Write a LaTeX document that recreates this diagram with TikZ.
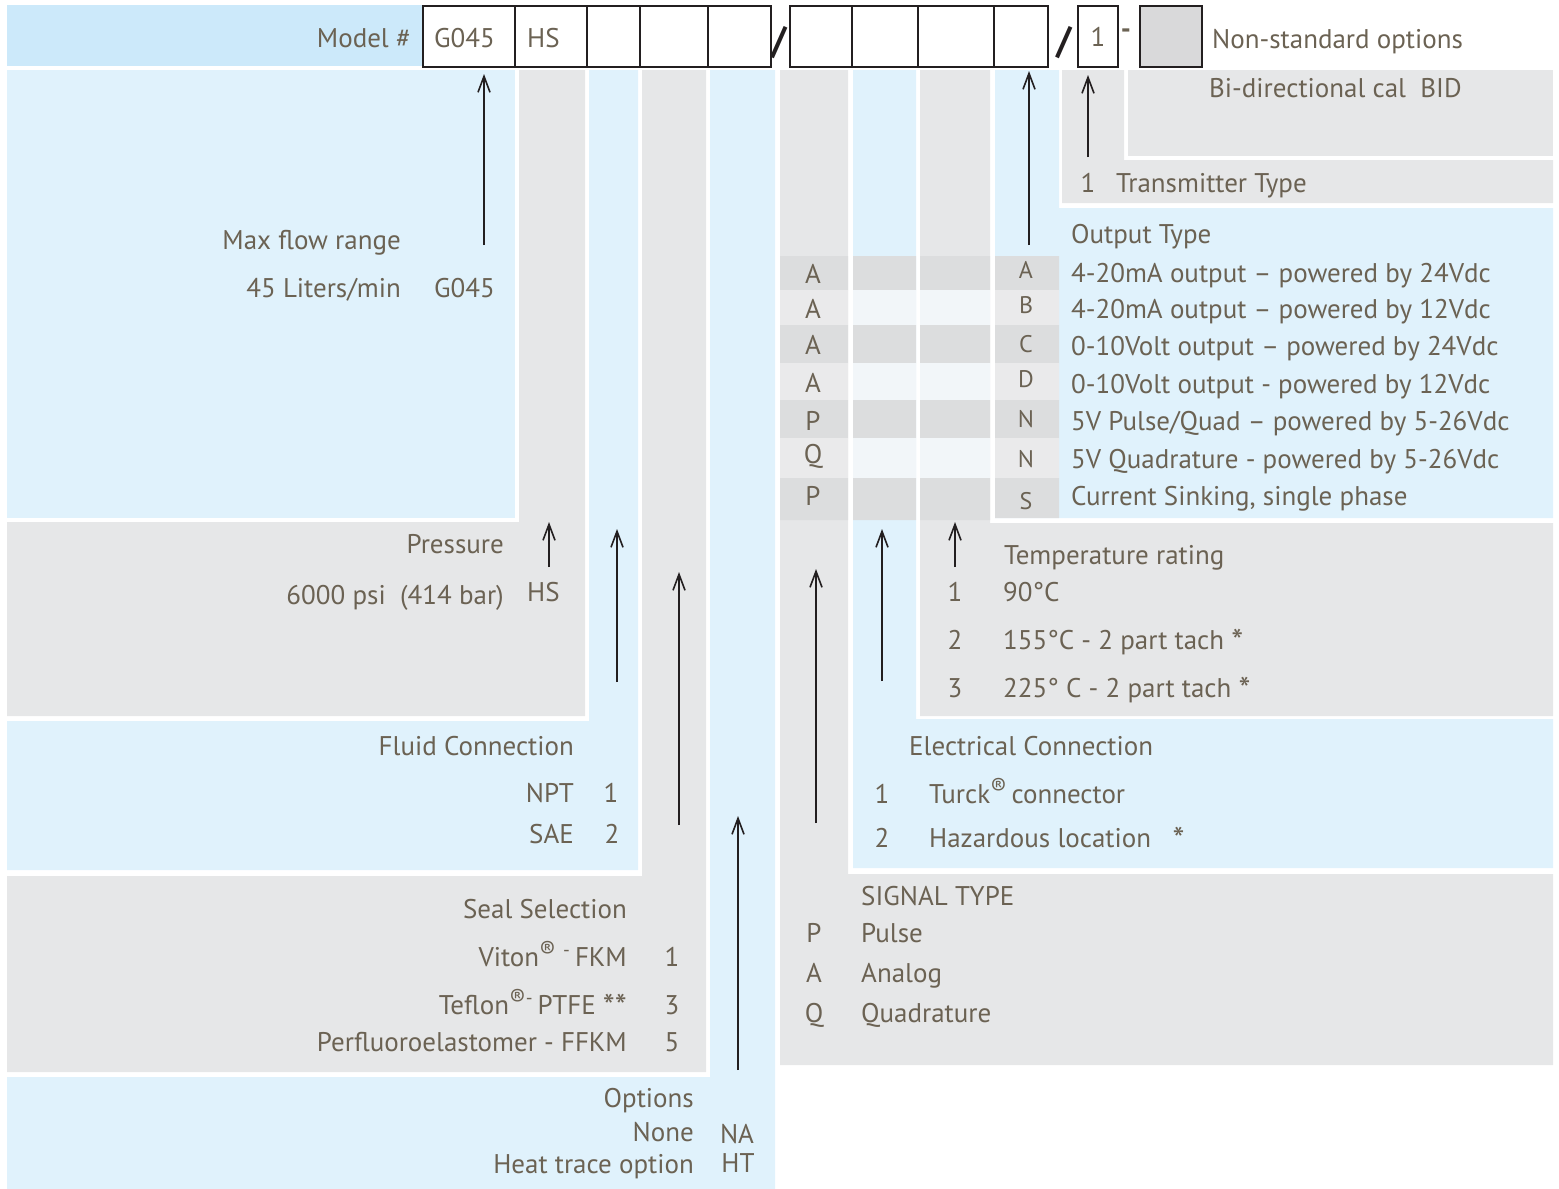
\documentclass[tikz,border=0pt]{standalone}
\usepackage{fontspec}
\setmainfont{PT Sans}
\usetikzlibrary{arrows.meta}
\definecolor{ink}{RGB}{107,98,83}
\definecolor{hdrblue}{RGB}{204,233,250}
\definecolor{panelblue}{RGB}{224,242,252}
\definecolor{panelgrey}{RGB}{230,231,232}
\definecolor{rowgrey}{RGB}{220,221,222}
\definecolor{rowpale}{RGB}{242,246,249}
\definecolor{rowlight}{RGB}{234,234,235}
\definecolor{boxgrey}{RGB}{217,217,218}
\definecolor{edge}{RGB}{35,31,32}
\newcommand{\regmark}{\raisebox{0.55ex}{\fontsize{24}{24}\selectfont ®}}
\newcommand{\bigstar}{\raisebox{-0.35ex}{\fontsize{34}{34}\selectfont *}}

\begin{document}
\begin{tikzpicture}[x=1pt,y=-1pt,
    txt/.style={text=ink,inner sep=0pt,font=\fontsize{27}{31}\selectfont},
    code/.style={txt,font=\fontsize{24}{28}\selectfont},
    cell/.style={draw=edge,line width=2pt,fill=white,minimum height=61pt,inner sep=0pt,anchor=north west},
    pointer/.style={draw=edge,line width=1.6pt,-{Straight Barb[length=16pt,width=12pt]}}]
    \useasboundingbox (0,0) rectangle (1559,1189);
    % header band and code boxes
    \fill[hdrblue] (7,5) rectangle (422,66);
    \node[txt,anchor=base east] (model) at (411,47) {Model \#};
    \node[cell,minimum width=92pt] (cg) at (422,5) {};
    \node[cell,minimum width=72pt] (ch) at (514,5) {};
    \node[cell,minimum width=53pt] (cf) at (586,5) {};
    \node[cell,minimum width=68pt] (cs) at (639,5) {};
    \node[cell,minimum width=63pt] (co) at (707,5) {};
    \node[cell,minimum width=62pt] (csig) at (789,5) {};
    \node[cell,minimum width=66pt] (cel) at (851,5) {};
    \node[cell,minimum width=76pt] (ctemp) at (917,5) {};
    \node[cell,minimum width=54pt] (cout) at (993,5) {};
    \node[cell,minimum width=40pt,txt] (ctr) at (1077,5) {1};
    \node[cell,minimum width=62pt,fill=boxgrey] (cns) at (1139,5) {};
    \node[txt,anchor=base west] (g045) at (434,47) {G045};
    \node[txt,anchor=base west] (hs) at (527,47) {HS};
    \node[txt,font=\bfseries\fontsize{38}{38}\selectfont,text=edge,anchor=base] (slasha) at (779,53) {/};
    \node[txt,font=\bfseries\fontsize{38}{38}\selectfont,text=edge,anchor=base] (slashb) at (1064,53) {/};
    \node[txt,font=\bfseries\fontsize{28}{28}\selectfont,anchor=base] (dash) at (1126,38) {-};
    \node[txt,anchor=base west] (nonstd) at (1212,48) {Non-standard options};
    % left panels
    \fill[panelblue] (7,70) rectangle (515,518);
    \fill[panelgrey] (519,70) -- (585,70) -- (585,716) -- (7,716) -- (7,522) -- (519,522) -- cycle;
    \fill[panelblue] (589,70) -- (638,70) -- (638,870) -- (7,870) -- (7,721) -- (589,721) -- cycle;
    \fill[panelgrey] (642,70) -- (706,70) -- (706,1072) -- (7,1072) -- (7,876) -- (642,876) -- cycle;
    \fill[panelblue] (710,70) -- (775,70) -- (775,1189) -- (7,1189) -- (7,1077) -- (710,1077) -- cycle;
    % right panels
    \fill[panelgrey] (780,70) -- (848,70) -- (848,874) -- (1553,874) -- (1553,1065) -- (780,1065) -- cycle;
    \fill[panelblue] (853,70) -- (916,70) -- (916,719) -- (1553,719) -- (1553,868) -- (853,868) -- cycle;
    \fill[panelgrey] (920,70) -- (990,70) -- (990,523) -- (1553,523) -- (1553,716) -- (920,716) -- cycle;
    \fill[panelblue] (995,70) -- (1059,70) -- (1059,208) -- (1553,208) -- (1553,518) -- (995,518) -- cycle;
    \fill[panelgrey] (1062,70) -- (1124,70) -- (1124,160) -- (1553,160) -- (1553,203) -- (1062,203) -- cycle;
    \fill[panelgrey] (1128,70) rectangle (1553,156);
    % table rows
    \fill[rowgrey] (780,256) rectangle (848,290) (853,256) rectangle (916,290) (920,256) rectangle (990,290) (995,256) rectangle (1059,290);
    \fill[rowlight] (780,290) rectangle (848,325) (995,290) rectangle (1059,325);
    \fill[rowpale] (853,290) rectangle (916,325) (920,290) rectangle (990,325);
    \fill[rowgrey] (780,325) rectangle (848,363) (853,325) rectangle (916,363) (920,325) rectangle (990,363) (995,325) rectangle (1059,363);
    \fill[rowlight] (780,363) rectangle (848,400) (995,363) rectangle (1059,400);
    \fill[rowpale] (853,363) rectangle (916,400) (920,363) rectangle (990,400);
    \fill[rowgrey] (780,400) rectangle (848,438) (853,400) rectangle (916,438) (920,400) rectangle (990,438) (995,400) rectangle (1059,438);
    \fill[rowlight] (780,438) rectangle (848,478) (995,438) rectangle (1059,478);
    \fill[rowpale] (853,438) rectangle (916,478) (920,438) rectangle (990,478);
    \fill[rowgrey] (780,478) rectangle (848,520) (853,478) rectangle (916,520) (920,478) rectangle (990,520) (995,478) rectangle (1059,518);

    % max flow range
    \node[txt,anchor=base east] (flow) at (401,249) {Max flow range};
    \node[txt,anchor=base east] (flowa) at (401,297) {45 Liters/min};
    \node[txt,anchor=base west] (flowb) at (434,297) {G045};
    % pressure
    \node[txt,anchor=base east] (press) at (504,553) {Pressure};
    \node[txt,anchor=base east] (pressa) at (504,604) {6000 psi\ \ (414 bar)};
    \node[txt,anchor=base west] (pressb) at (527,601) {HS};
    % fluid connection
    \node[txt,anchor=base east] (fluid) at (574,755) {Fluid Connection};
    \node[txt,anchor=base east] (fluida) at (574,802) {NPT};
    \node[txt,anchor=base] (fluidan) at (611,802) {1};
    \node[txt,anchor=base east] (fluidb) at (574,843) {SAE};
    \node[txt,anchor=base] (fluidbn) at (612,843) {2};
    % seal selection
    \node[txt,anchor=base east] (seal) at (627,918) {Seal Selection};
    \node[txt,anchor=base east] (seala) at (627,966) {Viton\regmark\ \textsuperscript{-}\,FKM};
    \node[txt,anchor=base] (sealan) at (672,966) {1};
    \node[txt,anchor=base east] (sealb) at (627,1014) {Teflon\regmark\textsuperscript{-}\,PTFE \bigstar\bigstar};
    \node[txt,anchor=base] (sealbn) at (672,1014) {3};
    \node[txt,anchor=base east] (sealc) at (627,1051) {Perfluoroelastomer - FFKM};
    \node[txt,anchor=base] (sealcn) at (672,1051) {5};
    % options
    \node[txt,anchor=base east] (opt) at (694,1107) {Options};
    \node[txt,anchor=base east] (opta) at (694,1141) {None};
    \node[txt,anchor=base] (optan) at (737,1143) {NA};
    \node[txt,anchor=base east] (optb) at (694,1173) {Heat trace option};
    \node[txt,anchor=base] (optbn) at (738,1172) {HT};

    % transmitter and bi-directional
    \node[txt,anchor=base west] (bid) at (1209,97) {Bi-directional cal\ \ BID};
    \node[txt,anchor=base] (trn) at (1088,192) {1};
    \node[txt,anchor=base west] (trtype) at (1116,192) {Transmitter Type};
    % output type
    \node[txt,anchor=base west] (out) at (1071,243) {Output Type};
    \node[txt,anchor=base] (sa) at (813,283) {A};
    \node[code,anchor=base] (oa) at (1026,278) {A};
    \node[txt,anchor=base west] (outa) at (1071,282) {4-20mA output – powered by 24Vdc};
    \node[txt,anchor=base] (sb) at (813,318) {A};
    \node[code,anchor=base] (ob) at (1026,313) {B};
    \node[txt,anchor=base west] (outb) at (1071,318) {4-20mA output – powered by 12Vdc};
    \node[txt,anchor=base] (sc) at (813,354) {A};
    \node[code,anchor=base] (oc) at (1026,352) {C};
    \node[txt,anchor=base west] (outc) at (1071,355) {0-10Volt output – powered by 24Vdc};
    \node[txt,anchor=base] (sd) at (813,392) {A};
    \node[code,anchor=base] (od) at (1026,387) {D};
    \node[txt,anchor=base west] (outd) at (1071,393) {0-10Volt output - powered by 12Vdc};
    \node[txt,anchor=base] (se) at (813,430) {P};
    \node[code,anchor=base] (oe) at (1026,427) {N};
    \node[txt,anchor=base west] (oute) at (1071,430) {5V Pulse/Quad – powered by 5-26Vdc};
    \node[txt,anchor=base] (sf) at (813,463) {Q};
    \node[code,anchor=base] (of) at (1026,467) {N};
    \node[txt,anchor=base west] (outf) at (1071,468) {5V Quadrature - powered by 5-26Vdc};
    \node[txt,anchor=base] (sg) at (813,505) {P};
    \node[code,anchor=base] (og) at (1026,509) {S};
    \node[txt,anchor=base west] (outg) at (1071,505) {Current Sinking, single phase};
    % temperature rating
    \node[txt,anchor=base west] (temp) at (1004,564) {Temperature rating};
    \node[txt,anchor=base] (tempan) at (955,601) {1};
    \node[txt,anchor=base west] (tempa) at (1003,601) {90°C};
    \node[txt,anchor=base] (tempbn) at (955,649) {2};
    \node[txt,anchor=base west] (tempb) at (1003,649) {155°C - 2 part tach \bigstar};
    \node[txt,anchor=base] (tempcn) at (955,697) {3};
    \node[txt,anchor=base west] (tempc) at (1003,697) {225° C - 2 part tach \bigstar};
    % electrical connection
    \node[txt,anchor=base west] (elec) at (909,755) {Electrical Connection};
    \node[txt,anchor=base] (elecan) at (882,803) {1};
    \node[txt,anchor=base west] (eleca) at (929,803) {Turck\regmark\,connector};
    \node[txt,anchor=base] (elecbn) at (882,847) {2};
    \node[txt,anchor=base west] (elecb) at (929,847) {Hazardous location\ \ \ \bigstar};
    % signal type
    \node[txt,anchor=base west] (sig) at (861,905) {SIGNAL TYPE};
    \node[txt,anchor=base] (sigan) at (814,942) {P};
    \node[txt,anchor=base west] (siga) at (861,942) {Pulse};
    \node[txt,anchor=base] (sigbn) at (814,982) {A};
    \node[txt,anchor=base west] (sigb) at (861,982) {Analog};
    \node[txt,anchor=base] (sigcn) at (814,1022) {Q};
    \node[txt,anchor=base west] (sigc) at (861,1022) {Quadrature};

    % arrows
    \coordinate (flowtail) at (484,245);
    \draw[pointer,shorten >=6pt] (flowtail) -- (flowtail |- cg.south);
    \coordinate (presstail) at (549,567);
    \coordinate (presshead) at (549,522);
    \draw[pointer] (presstail) -- (presshead);
    \coordinate (fluidtail) at (617,682);
    \coordinate (fluidhead) at (617,529);
    \draw[pointer] (fluidtail) -- (fluidhead);
    \coordinate (sealtail) at (679,825);
    \coordinate (sealhead) at (679,572);
    \draw[pointer] (sealtail) -- (sealhead);
    \coordinate (opttail) at (738,1070);
    \coordinate (opthead) at (738,816);
    \draw[pointer] (opttail) -- (opthead);
    \coordinate (sigtail) at (816,823);
    \coordinate (sighead) at (816,569);
    \draw[pointer] (sigtail) -- (sighead);
    \coordinate (electail) at (882,681);
    \coordinate (elechead) at (882,529);
    \draw[pointer] (electail) -- (elechead);
    \coordinate (temptail) at (955,567);
    \coordinate (temphead) at (955,522);
    \draw[pointer] (temptail) -- (temphead);
    \coordinate (outtail) at (1029,245);
    \draw[pointer,shorten >=3pt] (outtail) -- (outtail |- cout.south);
    \coordinate (trtail) at (1088,157);
    \draw[pointer,shorten >=7pt] (trtail) -- (trtail |- ctr.south);
\end{tikzpicture}
\end{document}
